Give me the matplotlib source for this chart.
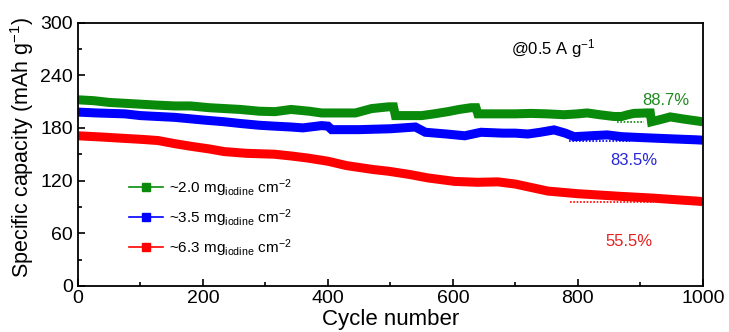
import matplotlib
matplotlib.use("Agg")
import matplotlib.pyplot as plt
from matplotlib.lines import Line2D
from matplotlib.ticker import MultipleLocator

plt.rcParams["font.family"] = ["Liberation Sans", "DejaVu Sans"]
plt.rcParams["mathtext.fontset"] = "custom"
plt.rcParams["mathtext.rm"] = "Liberation Sans"
plt.rcParams["mathtext.it"] = "Liberation Sans:italic"

# ~2.0 mg cm-2 loading (green)
cyc_g = [0, 25, 50, 75, 100, 125, 155, 180, 210, 235, 260, 290, 315, 341, 370, 390,
         420, 444, 470, 497, 505, 508, 530, 550, 570, 592, 610, 629, 637, 640, 683,
         700, 725, 750, 778, 800, 815, 835, 858, 870, 880, 890, 910, 916, 918, 935,
         948, 970, 990, 1000]
cap_g = [212, 211, 209, 208, 207, 206, 205, 205, 203, 202, 201, 199, 198.5, 201, 199, 197,
         197, 197, 202, 204, 204, 194, 194, 194, 196, 198.5, 201, 203, 203, 196, 196,
         196, 196.5, 196, 195, 196, 197, 195, 193, 193, 195, 196.5, 197, 197, 187, 190,
         192.5, 190, 188, 187]

# ~3.5 mg cm-2 loading (blue)
cyc_b = [0, 30, 75, 100, 155, 200, 234, 260, 290, 314, 341, 360, 390, 400, 406, 450,
         500, 540, 556, 590, 619, 645, 680, 700, 720, 740, 762, 780, 794, 820, 847,
         870, 900, 950, 990, 1000]
cap_b = [198, 197, 196, 194, 192, 189, 187, 185, 183, 182, 181, 180, 182.6, 182, 178, 178,
         179, 181, 175, 173, 171, 175, 174, 174, 173, 175, 177.7, 174, 170, 171, 172,
         170, 169, 167.5, 166.4, 166]

# ~6.3 mg cm-2 loading (red)
cyc_r = [0, 40, 75, 100, 128, 155, 181, 210, 234, 270, 314, 341, 367, 400, 430, 473,
         497, 530, 560, 603, 640, 672, 700, 752, 800, 868, 920, 960, 990, 1000]
cap_r = [171, 169.5, 168, 167, 165.6, 162, 159, 156, 153, 151, 150, 148, 145.7, 142, 137, 132.5,
         130.6, 127, 123, 119, 118, 118.5, 116, 108, 105, 102, 100, 98, 96.6, 96]

labels = [r"~2.0 mg$_{\rm iodine}$ cm$^{-2}$",
          r"~3.5 mg$_{\rm iodine}$ cm$^{-2}$",
          r"~6.3 mg$_{\rm iodine}$ cm$^{-2}$"]
colors = ["#0a8a0a", "#0000ff", "#ff0000"]
text_colors = ["#1f8a1f", "#2626d6", "#e62020"]

# retention reference levels: (start cycle, end cycle, capacity, label)
retention = [(863, 906, 187, "88.7%"), (786, 884, 165.5, "83.5%"), (787, 922, 96, "55.5%")]
ret_text_pos = [(941, 211), (889, 143), (882, 50)]

fig = plt.figure(figsize=(7.29, 3.32), dpi=100)
ax = fig.add_axes([0.107, 0.139, 0.857, 0.793])

for x, y, c in zip([cyc_g, cyc_b, cyc_r], [cap_g, cap_b, cap_r], colors):
    ax.plot(x, y, color=c, lw=6.5, solid_joinstyle="miter", solid_capstyle="butt")

for (x0, x1, v, t), (tx, ty), c, tc in zip(retention, ret_text_pos, colors, text_colors):
    ax.plot([x0, x1], [v, v], color=c, lw=1.2, ls=(0, (1, 1)))
    ax.text(tx, ty, t, color=tc, fontsize=12, ha="center", va="center")

ax.text(760, 270, r"@0.5 A g$^{-1}$", fontsize=12, ha="center", va="center")

handles = [Line2D([0], [0], color=c, alpha=0.45, lw=1.2, marker="s", markersize=6,
                  markerfacecolor=c, markeredgecolor=c) for c in colors]
leg = ax.legend(handles, labels, loc="upper left", bbox_to_anchor=(0.06, 0.465),
                frameon=False, fontsize=11, handlelength=2.2, handletextpad=0.4,
                labelspacing=0.55)
for h in leg.legend_handles:
    h.set_alpha(None)

ax.set_xlim(0, 1000)
ax.set_ylim(0, 300)
ax.xaxis.set_major_locator(MultipleLocator(200))
ax.xaxis.set_minor_locator(MultipleLocator(100))
ax.yaxis.set_major_locator(MultipleLocator(60))
ax.yaxis.set_minor_locator(MultipleLocator(30))
ax.tick_params(which="both", direction="in", labelsize=14, top=False, right=False, width=1.2)
ax.tick_params(which="major", length=5)
ax.tick_params(which="minor", length=3)
ax.tick_params(axis="x", pad=3)
for s in ax.spines.values():
    s.set_linewidth(1.3)

ax.set_xlabel("Cycle number", fontsize=16, labelpad=1.5)
ax.set_ylabel(r"Specific capacity (mAh g$^{-1}$)", fontsize=15.5)
ax.yaxis.set_label_coords(-0.068, 0.525)

fig.savefig("out.png", dpi=100)
